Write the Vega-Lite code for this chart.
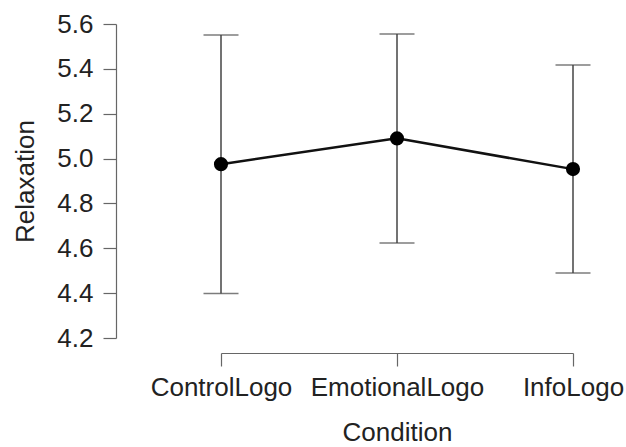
{
  "$schema": "https://vega.github.io/schema/vega-lite/v6.json",
  "autosize": "none",
  "width": 352,
  "height": 314,
  "padding": {"left": 221, "top": 24, "right": 53, "bottom": 109},
  "background": "white",
  "config": {
    "view": {"stroke": null},
    "font": "Liberation Sans",
    "axis": {
      "grid": false,
      "domainColor": "#666666",
      "tickColor": "#666666",
      "domainWidth": 1.2,
      "tickWidth": 1.2,
      "tickSize": 13,
      "labelFont": "Liberation Sans",
      "titleFont": "Liberation Sans",
      "labelFontSize": 26,
      "titleFontSize": 26,
      "labelColor": "#222222",
      "titleColor": "#222222",
      "titleFontWeight": "normal"
    }
  },
  "data": {
    "values": [
      {"Condition": "ControlLogo", "mean": 4.975, "lower": 4.398, "upper": 5.551},
      {"Condition": "EmotionalLogo", "mean": 5.09, "lower": 4.624, "upper": 5.555},
      {"Condition": "InfoLogo", "mean": 4.953, "lower": 4.49, "upper": 5.417}
    ]
  },
  "encoding": {
    "x": {
      "field": "Condition",
      "type": "nominal",
      "sort": ["ControlLogo", "EmotionalLogo", "InfoLogo"],
      "scale": {"type": "point", "padding": 0},
      "axis": {"title": "Condition", "labelAngle": 0, "offset": 15, "labelPadding": 8, "titlePadding": 19}
    }
  },
  "layer": [
    {
      "mark": {"type": "rule", "color": "#444444", "strokeWidth": 1.5},
      "encoding": {
        "y": {
          "field": "lower",
          "type": "quantitative",
          "scale": {"domain": [4.2, 5.6], "nice": false, "zero": false},
          "axis": {"title": "Relaxation", "values": [4.2, 4.4, 4.6, 4.8, 5.0, 5.2, 5.4, 5.6], "format": ".1f", "offset": 105, "labelPadding": 10, "titlePadding": 18}
        },
        "y2": {"field": "upper"}
      }
    },
    {
      "mark": {"type": "tick", "color": "#444444", "size": 35, "thickness": 1.5},
      "encoding": {"y": {"field": "upper", "type": "quantitative"}}
    },
    {
      "mark": {"type": "tick", "color": "#444444", "size": 35, "thickness": 1.5},
      "encoding": {"y": {"field": "lower", "type": "quantitative"}}
    },
    {
      "mark": {"type": "line", "color": "#111111", "strokeWidth": 2.5},
      "encoding": {"y": {"field": "mean", "type": "quantitative"}}
    },
    {
      "mark": {"type": "point", "filled": true, "color": "#000000", "size": 200, "opacity": 1},
      "encoding": {"y": {"field": "mean", "type": "quantitative"}}
    }
  ]
}
